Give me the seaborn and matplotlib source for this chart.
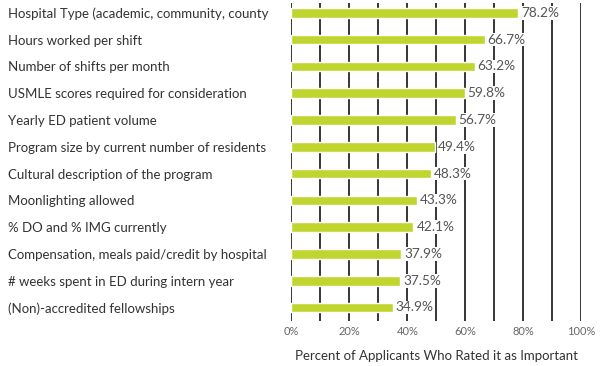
import matplotlib
matplotlib.use("Agg")
import matplotlib.pyplot as plt
import seaborn as sns
import pandas as pd

# données
factors = [
    "Hospital Type (academic, community, county",
    "Hours worked per shift",
    "Number of shifts per month",
    "USMLE scores required for consideration",
    "Yearly ED patient volume",
    "Program size by current number of residents",
    "Cultural description of the program",
    "Moonlighting allowed",
    "% DO and % IMG currently",
    "Compensation, meals paid/credit by hospital",
    "# weeks spent in ED during intern year",
    "(Non)-accredited fellowships",
]
pct_important = [78.2, 66.7, 63.2, 59.8, 56.7, 49.4, 48.3, 43.3, 42.1, 37.9, 37.5, 34.9]
x_ticks = [0, 20, 40, 60, 80, 100]
x_label = "Percent of Applicants Who Rated it as Important"

sns.set_theme(style="white")
plt.rcParams['font.family'] = ['Lato', 'DejaVu Sans']

df = pd.DataFrame({"factor": factors, "pct": pct_important})

fig = plt.figure(figsize=(6, 3.66), dpi=100)
ax = fig.add_axes([0.4855, 0.124, 0.4835, 0.868])

# lignes verticales tous les 10%
for v in range(0, 101, 10):
    ax.axvline(v, color="black", linewidth=1.1, zorder=0)

sns.barplot(data=df, x="pct", y="factor", orient="h", color="#c0d62f",
            width=0.36, saturation=1, ax=ax, zorder=2)

for i, v in enumerate(pct_important):
    ax.text(v + 1.0, i, f"{v}%", va="center", ha="left", fontsize=9.8,
            color="#555555", zorder=3,
            bbox=dict(facecolor="white", edgecolor="none", pad=0.6))

ax.set_xlim(0, 100)
ax.set_ylim(11.49, -0.37)
ax.set_xticks(x_ticks)
ax.set_xticklabels([f"{t}%" for t in x_ticks], fontsize=8, color="#666666")
ax.set_xlabel(x_label, fontsize=9.5, color="#333333", labelpad=9)
ax.set_ylabel("")
ax.tick_params(axis="x", length=0, pad=4)
ax.tick_params(axis="y", length=0, pad=204, labelsize=9.5, labelcolor="#333333")
for lab in ax.get_yticklabels():
    lab.set_horizontalalignment("left")
for s in ax.spines.values():
    s.set_visible(False)

plt.savefig("out.png", dpi=100)
plt.close()
